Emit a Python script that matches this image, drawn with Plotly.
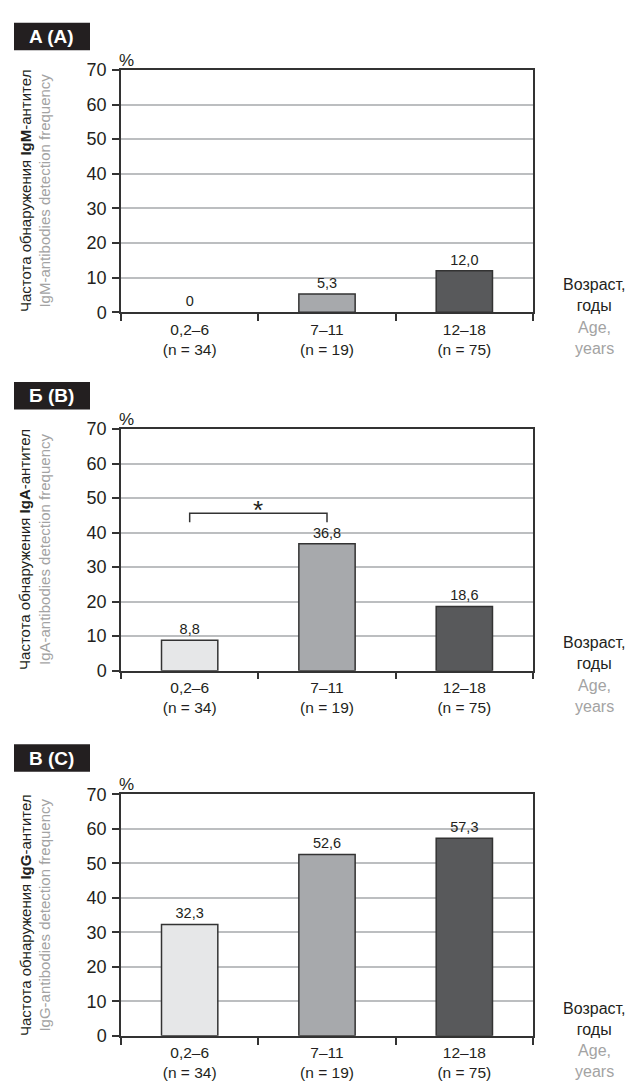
import plotly.graph_objects as go

# ---------------- data ----------------
age_groups = ["0,2–6", "7–11", "12–18"]
group_sizes = [34, 19, 75]
igm_values = [0.0, 5.3, 12.0]
iga_values = [8.8, 36.8, 18.6]
igg_values = [32.3, 52.6, 57.3]
panel_labels = ["A (A)", "Б (B)", "В (C)"]
antibody_names = ["IgM", "IgA", "IgG"]
y_ticks = [0, 10, 20, 30, 40, 50, 60, 70]
sig_pair = [0, 1]          # significant comparison in panel Б (B)
sig_level = 45.6           # bracket height (%)

# ---------------- styling ----------------
W, H = 629, 1091
FONT = "Liberation Sans"
BAR_COLORS = ["#e6e7e8", "#a7a9ac", "#58595b"]
LINE = "#333333"
GRID = "#bcbec0"
GREY_TXT = "#a3a3a3"
TXT = "#231f20"

def px(p):
    return p / W

def py(p):
    return 1 - p / H

X_LEFT, X_RIGHT = 121, 533
panel_px = [(61, 308, 13), (427, 673, 379), (799, 1045, 748)]  # top, bottom, label-box top

categories = [f"{a}<br>(n = {n})" for a, n in zip(age_groups, group_sizes)]
series = [igm_values, iga_values, igg_values]

def fmt(v):
    return "0" if v == 0 else f"{v:.1f}".replace(".", ",")

fig = go.Figure()
layout = dict(
    width=W, height=H, margin=dict(l=0, r=0, t=0, b=0),
    paper_bgcolor="white", plot_bgcolor="white", showlegend=False,
    font=dict(family=FONT, color=TXT, size=14),
    shapes=[], annotations=[],
)

for i, (vals, lab, ab, (top, bot, box_top)) in enumerate(zip(series, panel_labels, antibody_names, panel_px), start=1):
    xa = "x" if i == 1 else f"x{i}"
    ya = "y" if i == 1 else f"y{i}"
    fig.add_trace(go.Bar(
        x=categories, y=vals, xaxis=xa, yaxis=ya, width=0.41,
        marker=dict(color=BAR_COLORS, line=dict(color=LINE, width=[0 if v == 0 else 1.5 for v in vals])),
        text=[fmt(v) for v in vals], textposition="outside", cliponaxis=False,
        textfont=dict(size=14.5, color=TXT, family=FONT),
        hoverinfo="skip",
    ))
    layout[f"xaxis{i if i > 1 else ''}"] = dict(
        domain=[px(X_LEFT), px(X_RIGHT)], anchor=ya, type="category",
        range=[-0.5, 2.5], tickson="boundaries", ticks="outside", ticklen=7,
        tickwidth=1.5, tickcolor=LINE, showline=True, linecolor=LINE, linewidth=1.5,
        mirror=True, showgrid=False, tickfont=dict(size=15.5, family=FONT, color=TXT),
        ticklabelstandoff=2, fixedrange=True,
    )
    layout[f"yaxis{i if i > 1 else ''}"] = dict(
        domain=[py(bot), py(top)], anchor=xa, range=[0, 70], tickvals=y_ticks,
        ticks="outside", ticklen=7, tickwidth=1.5, tickcolor=LINE,
        showline=True, linecolor=LINE, linewidth=1.5, mirror=True,
        showgrid=True, gridcolor=GRID, gridwidth=1.5, zeroline=False,
        tickfont=dict(size=18, family=FONT, color=TXT), ticklabelstandoff=2, fixedrange=True,
    )
    # panel label box
    layout["shapes"].append(dict(type="rect", xref="paper", yref="paper",
                                 x0=px(14), x1=px(90), y0=py(box_top + 28), y1=py(box_top),
                                 fillcolor="#231f20", line=dict(width=0)))
    layout["annotations"].append(dict(xref="paper", yref="paper", x=px(52), y=py(box_top + 14),
                                      text=f"<b>{lab}</b>", showarrow=False,
                                      font=dict(size=19, color="white", family=FONT),
                                      xanchor="center", yanchor="middle"))
    # percent sign
    layout["annotations"].append(dict(xref="paper", yref="paper", x=px(117), y=py(top - 10),
                                      text="%", showarrow=False, font=dict(size=17, family=FONT),
                                      xanchor="left", yanchor="middle"))
    # y-axis title
    layout["annotations"].append(dict(
        xref="paper", yref="paper", x=px(35), y=py((top + bot) / 2), textangle=-90,
        text=(f"Частота обнаружения <b>{ab}</b>-антител<br>"
              f"<span style='color:{GREY_TXT}'>{ab}-antibodies detection frequency</span>"),
        showarrow=False, font=dict(size=15, family=FONT), xanchor="center", yanchor="middle"))
    # right-side x-axis title
    layout["annotations"].append(dict(xref="paper", yref="paper", x=px(594), y=py(bot - 17.5),
                                      text="Возраст,<br>годы", showarrow=False,
                                      font=dict(size=16, family=FONT), xanchor="center", yanchor="middle"))
    layout["annotations"].append(dict(xref="paper", yref="paper", x=px(594), y=py(bot + 26),
                                      text="Age,<br>years", showarrow=False,
                                      font=dict(size=16, family=FONT, color=GREY_TXT),
                                      xanchor="center", yanchor="middle"))

# significance bracket in panel Б (B)
a, b = sig_pair
layout["shapes"].append(dict(type="path", xref="x2", yref="y2",
                             path=f"M {a},{sig_level - 2.6} L {a},{sig_level} L {b},{sig_level} L {b},{sig_level - 2.6}",
                             line=dict(color=LINE, width=1.5)))
layout["annotations"].append(dict(xref="x2", yref="y2", x=(a + b) / 2, y=sig_level,
                                  text="*", showarrow=False, font=dict(size=26, family=FONT),
                                  xanchor="center", yanchor="middle", yshift=3))

fig.update_layout(**layout)
fig.write_html("out.html")
